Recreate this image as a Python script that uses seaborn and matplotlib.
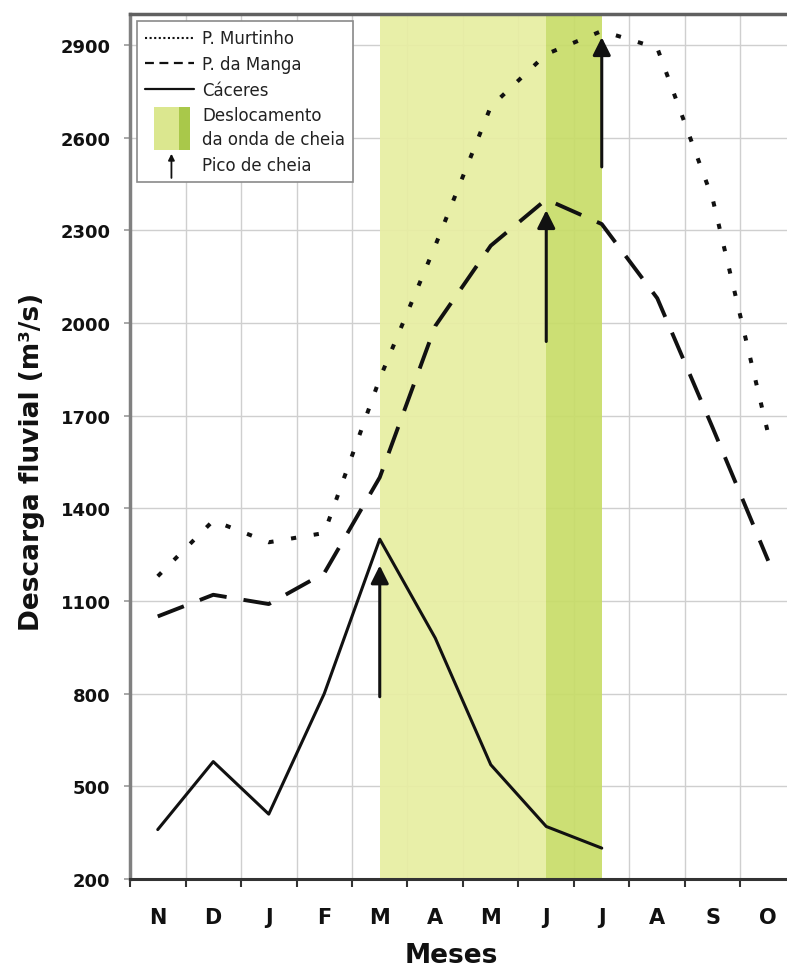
import numpy as np
import pandas as pd
import matplotlib
matplotlib.use("Agg")
import matplotlib.pyplot as plt
import seaborn as sns
from matplotlib.legend_handler import HandlerBase
from matplotlib.lines import Line2D
from matplotlib.patches import Rectangle, FancyArrowPatch

sns.set_theme(style="white")
plt.rcParams["font.family"] = ["DejaVu Sans"]

# ---------------- data ----------------
months = ["N", "D", "J", "F", "M", "A", "M", "J", "J", "A", "S", "O"]
murtinho = [1180, 1360, 1290, 1320, 1820, 2250, 2700, 2870, 2945, 2890, 2400, 1640]
manga = [1050, 1120, 1090, 1190, 1500, 1990, 2250, 2400, 2320, 2080, 1660, 1230]
caceres = [360, 580, 410, 800, 1300, 980, 570, 370, 300, np.nan, np.nan, np.nan]
yticks = [200, 500, 800, 1100, 1400, 1700, 2000, 2300, 2600, 2900]
# flood-wave displacement band (month indices): start, intermediate, end
band_idx = [4, 7, 8]
# flood-peak arrows: month index, tail value, tip value
peak_idx = [4, 7, 8]
peak_tail = [790, 1940, 2505]
peak_tip = [1215, 2365, 2925]

series_names = ["P. Murtinho", "P. da Manga", "Cáceres"]
legend_band = "Deslocamento\nda onda de cheia"
legend_arrow = "Pico de cheia"

x = np.arange(len(months))
df = pd.DataFrame({"idx": x, "P. Murtinho": murtinho, "P. da Manga": manga, "Cáceres": caceres})

# ---------------- figure ----------------
W, H = 787, 970
fig = plt.figure(figsize=(W / 100, H / 100), dpi=100)
ax = fig.add_axes([130 / W, 90 / H, 666 / W, 865 / H])

light_c = "#e7eea2"
dark_c = "#c8dd69"
ax.axvspan(band_idx[0], band_idx[1], color=light_c, lw=0, zorder=1, alpha=0.93)
ax.axvspan(band_idx[1], band_idx[2], color=dark_c, lw=0, zorder=1, alpha=0.93)

styles = {
    "P. Murtinho": dict(lw=2.9, linestyle=(0, (1.3, 4.4)), dash_capstyle="butt"),
    "P. da Manga": dict(lw=2.8, linestyle=(0, (7.2, 4.4)), dash_capstyle="butt"),
    "Cáceres": dict(lw=2.2, linestyle="-"),
}
for name in series_names:
    sub = df[["idx", name]].dropna()
    sns.lineplot(data=sub, x="idx", y=name, ax=ax, color="#111111",
                 errorbar=None, zorder=3, **styles[name])

for xi, yt, yh in zip(peak_idx, peak_tail, peak_tip):
    ax.annotate("", xy=(xi, yh), xytext=(xi, yt),
                arrowprops=dict(arrowstyle="-|>", color="#111111", lw=2.2,
                                mutation_scale=27, shrinkA=0, shrinkB=0),
                zorder=4)

# axes / ticks
ax.set_xlim(-0.5, len(months) - 0.5)
ax.set_ylim(200, 3000)
ax.set_xticks(x)
ax.set_xticklabels(months)
ax.set_xticks(np.arange(-0.5, len(months), 1), minor=True)
ax.set_yticks(yticks)
ax.set_yticklabels([str(v) for v in yticks])
ax.tick_params(axis="x", which="major", length=0, pad=20, labelsize=15, labelcolor="#111")
ax.tick_params(axis="x", which="minor", length=6, width=1.5, color="#333", direction="out", bottom=True)
ax.tick_params(axis="y", which="major", length=4, width=1.2, color="#999", direction="out",
               pad=10, labelsize=13, labelcolor="#111", left=True)
for lab in ax.get_xticklabels() + ax.get_yticklabels():
    lab.set_fontweight("bold")

ax.grid(which="minor", axis="x", color="#cfcfcf", lw=1)
ax.grid(which="major", axis="y", color="#cfcfcf", lw=1)
ax.grid(which="major", axis="x", visible=False)
ax.set_axisbelow(True)

ax.spines["left"].set_color("#808080")
ax.spines["left"].set_linewidth(2.5)
ax.spines["bottom"].set_color("#333333")
ax.spines["bottom"].set_linewidth(2.2)
ax.spines["top"].set_color("#606060")
ax.spines["top"].set_linewidth(2.5)
ax.spines["right"].set_visible(False)

ax.set_ylabel("Descarga fluvial (m³/s)", fontsize=19, fontweight="bold", color="#111", va="center")
ax.yaxis.set_label_coords(-0.147, 0.483)
ax.set_xlabel("Meses", fontsize=19, fontweight="bold", color="#111", va="center")
ax.xaxis.set_label_coords(0.483, -0.088)


# ---------------- legend ----------------
class BandHandle:
    pass


class ArrowHandle:
    pass


class BandHandler(HandlerBase):
    def create_artists(self, legend, orig_handle, xdescent, ydescent, width, height, fontsize, trans):
        w = 0.75 * width
        x0 = 0.17 * width - xdescent
        h = 2.6 * fontsize
        yc = height / 2 - ydescent
        r1 = Rectangle((x0, yc - h / 2), w * 0.7, h, fc="#dbe78f", ec="none", transform=trans)
        r2 = Rectangle((x0 + w * 0.7, yc - h / 2), w * 0.3, h, fc="#a9c84a", ec="none", transform=trans)
        return [r1, r2]


class ArrowHandler(HandlerBase):
    def create_artists(self, legend, orig_handle, xdescent, ydescent, width, height, fontsize, trans):
        cx = 0.54 * width - xdescent
        yc = height / 2 - ydescent
        a = FancyArrowPatch((cx, yc - 0.85 * fontsize), (cx, yc + 0.6 * fontsize),
                            arrowstyle="-|>", mutation_scale=9, lw=1.3, color="#111",
                            shrinkA=0, shrinkB=0, transform=trans)
        return [a]


handles = [
    Line2D([], [], color="#111", lw=1.5, linestyle=(0, (1, 1.2))),
    Line2D([], [], color="#111", lw=1.6, linestyle=(0, (4, 2.5))),
    Line2D([], [], color="#111", lw=1.6),
    BandHandle(),
    ArrowHandle(),
]
labels = series_names + [legend_band, legend_arrow]
leg = ax.legend(handles, labels, loc="upper left", bbox_to_anchor=(7 / 666, 1 - 7 / 865),
                borderaxespad=0, fontsize=12, frameon=True, fancybox=False,
                edgecolor="#8a8a8a", framealpha=1, handlelength=2.9, handletextpad=0.5,
                labelspacing=0.46, borderpad=0.5,
                handler_map={BandHandle: BandHandler(), ArrowHandle: ArrowHandler()})
leg.get_frame().set_linewidth(1.2)
leg.set_zorder(5)
for t in leg.get_texts():
    t.set_color("#222")
leg.get_texts()[3].set_linespacing(1.4)

fig.savefig("out.png", dpi=100)
